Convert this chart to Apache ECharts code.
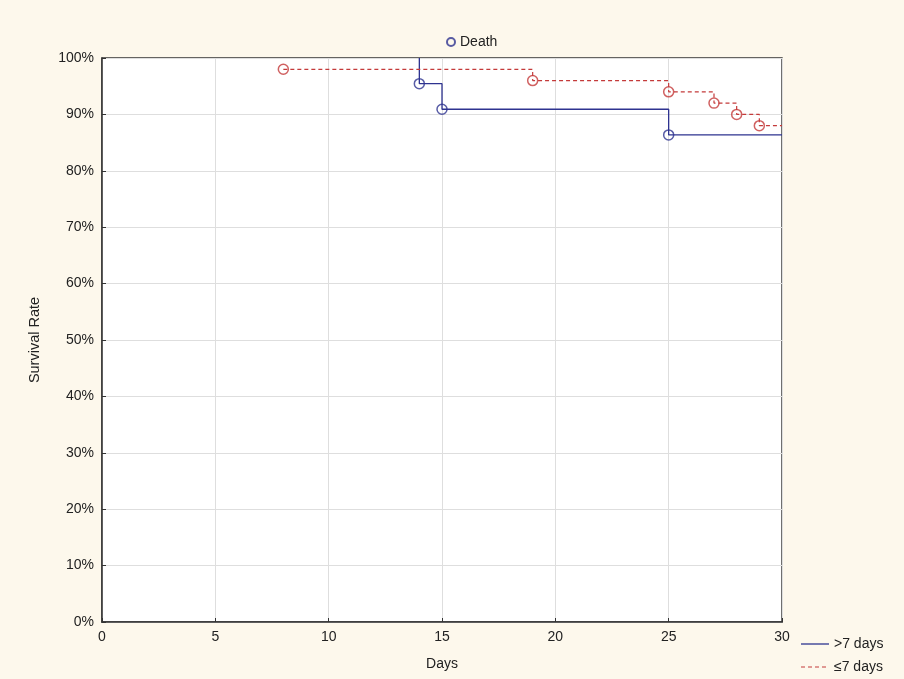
<!DOCTYPE html>
<html>
<head>
<meta charset="utf-8">
<script src="https://cdn.jsdelivr.net/npm/echarts@6/dist/echarts.min.js"></script>
<style>
html,body{margin:0;padding:0;background:#FDF8EC;}
#chart{width:904px;height:679px;}
</style>
</head>
<body>
<div id="chart"></div>
<script>
var xTicks = [0, 5, 10, 15, 20, 25, 30];
var yTicks = [0, 10, 20, 30, 40, 50, 60, 70, 80, 90, 100];
// >7 days curve (step points) and its death events
var longDays = [14, 14, 15, 25, 30];
var longSurv = [100, 95.45, 90.91, 86.36, 86.36];
var longDeathDays = [14, 15, 25];
var longDeathSurv = [95.45, 90.91, 86.36];
// <=7 days curve and its death events
var shortDays = [8, 19, 25, 27, 28, 29, 30];
var shortSurv = [98, 96, 94, 92, 90, 88, 88];
var shortDeathDays = [8, 19, 25, 27, 28, 29];
var shortDeathSurv = [98, 96, 94, 92, 90, 88];

var blue = '#2E3390';
var red = '#C43A3A';
var font = 'Liberation Sans, Arial, sans-serif';

function pairs(xs, ys) { return xs.map(function (x, i) { return [x, ys[i]]; }); }
function marks(xs, ys, color) {
  return xs.map(function (x, i) { return { value: [x, ys[i]], itemStyle: { borderColor: color } }; });
}

var solidIcon = 'path://M0,0H28V1.3H0Z';
var dashIcon = 'path://M0,0H4V1.2H0Z M7,0H11V1.2H7Z M14,0H18V1.2H14Z M21,0H25V1.2H21Z M28,0H28.01V1.2H28Z';

var chart = echarts.init(document.getElementById('chart'));
chart.setOption({
  backgroundColor: '#FDF8EC',
  animation: false,
  textStyle: { fontFamily: font },
  grid: { left: 102, right: 122, top: 58, bottom: 57, show: true, backgroundColor: '#FFFFFF', borderColor: '#333333', borderWidth: 1.4 },
  legend: [
    { data: ['Death'], left: 441, top: 30, itemWidth: 8, itemHeight: 8, itemGap: 10,
      textStyle: { fontSize: 14, color: '#222', fontFamily: font } },
    { data: [{ name: '>7 days', icon: solidIcon }, { name: '≤7 days', icon: dashIcon }], orient: 'vertical', left: 796, top: 632, itemWidth: 28, itemHeight: 10, itemGap: 9,
      textStyle: { fontSize: 14, color: '#222', fontFamily: font } }
  ],
  xAxis: {
    type: 'value', min: 0, max: 30, interval: 5, name: 'Days', nameLocation: 'middle', nameGap: 35,
    nameTextStyle: { fontSize: 14, color: '#222', fontFamily: font },
    axisLine: { lineStyle: { color: '#333', width: 1.5 } },
    axisTick: { show: true, inside: true, length: 4, lineStyle: { color: '#333' } },
    axisLabel: { fontSize: 14, color: '#222', margin: 8, formatter: function (v) { return xTicks.indexOf(v) >= 0 ? String(v) : ''; } },
    splitLine: { show: true, lineStyle: { color: '#DEDEDE' } }
  },
  yAxis: {
    type: 'value', min: 0, max: 100, interval: 10, name: 'Survival Rate', nameLocation: 'middle', nameGap: 60,
    nameTextStyle: { fontSize: 14.5, color: '#222', fontFamily: font },
    axisLine: { show: true, lineStyle: { color: '#333', width: 1.5 } },
    axisTick: { show: true, inside: true, length: 4, lineStyle: { color: '#333' } },
    axisLabel: { fontSize: 14, color: '#222', margin: 8, formatter: function (v) { return yTicks.indexOf(v) >= 0 ? v + '%' : ''; } },
    splitLine: { show: true, lineStyle: { color: '#DEDEDE' } }
  },
  series: [
    { name: '>7 days', type: 'line', step: 'end', data: pairs(longDays, longSurv), showSymbol: false, symbol: 'none',
      lineStyle: { color: blue, width: 1.3 }, itemStyle: { color: blue }, z: 3 },
    { name: '≤7 days', type: 'line', step: 'end', data: pairs(shortDays, shortSurv), showSymbol: false, symbol: 'none',
      lineStyle: { color: red, width: 1.2, type: [4, 3] }, itemStyle: { color: red }, z: 3 },
    { name: 'Death', type: 'scatter', symbol: 'circle', symbolSize: 10,
      data: marks(longDeathDays, longDeathSurv, blue).concat(marks(shortDeathDays, shortDeathSurv, red)),
      itemStyle: { color: 'rgba(255,255,255,0)', borderColor: blue, borderWidth: 1.5 }, z: 4 }
  ]
});
</script>
</body>
</html>
